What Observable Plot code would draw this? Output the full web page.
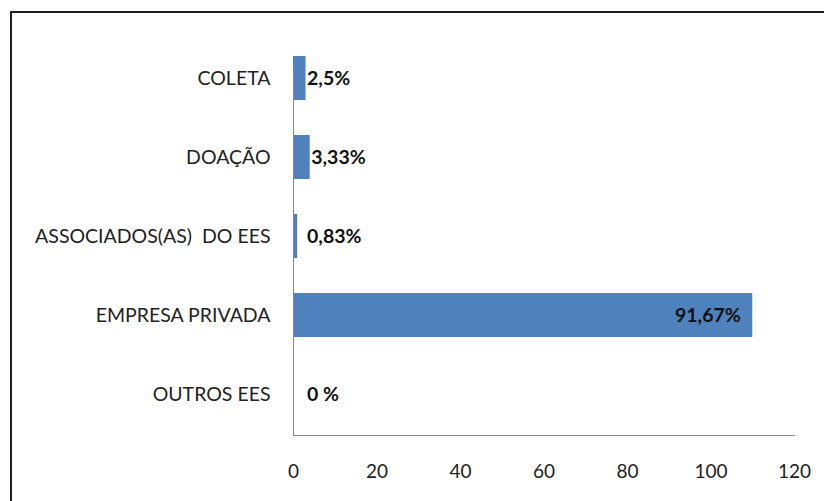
<!DOCTYPE html>
<html>
<head>
<meta charset="utf-8">
<script src="https://cdn.jsdelivr.net/npm/d3@7"></script>
<script src="https://cdn.jsdelivr.net/npm/@observablehq/plot@0.6"></script>
<style>
  html, body { margin: 0; padding: 0; background: #fff; overflow: hidden; }
  #wrap { position: relative; width: 824px; height: 501px; }
  #frame { position: absolute; left: 10px; top: 11px; width: 900px; height: 600px; border: 2px solid #1e1e1e; box-sizing: border-box; }
  #chart { position: absolute; left: 0; top: 0; }
</style>
</head>
<body>
<div id="wrap"><div id="frame"></div><div id="chart"></div></div>
<script>
const categories = ["COLETA", "DOAÇÃO", "ASSOCIADOS(AS)  DO EES", "EMPRESA PRIVADA", "OUTROS EES"];
const values = [3, 4, 1, 110, 0];
const valueLabels = ["2,5%", "3,33%", "0,83%", "91,67%", "0 %"];
const xTicks = [0, 20, 40, 60, 80, 100, 120];

const data = categories.map((c, i) => ({category: c, value: values[i], label: valueLabels[i]}));
const font = "Lato, 'Open Sans', sans-serif";

const chart = Plot.plot({
  width: 824,
  height: 501,
  marginLeft: 293,
  marginRight: 30,
  marginTop: 38,
  marginBottom: 66,
  style: {fontFamily: font, fontSize: "19px", color: "#222", background: "transparent"},
  x: {domain: [0, 120], ticks: xTicks, label: null},
  y: {domain: categories, label: null, paddingInner: 0.44, paddingOuter: 0.22},
  marks: [
    Plot.barX(data, {x: "value", y: "category", fill: "#4F81BD"}),
    Plot.frame({anchor: "left", stroke: "#868686", insetTop: 31}),
    Plot.frame({anchor: "bottom", stroke: "#868686"}),
    Plot.axisY({tickSize: 0, tickPadding: 23, fontSize: 19.5, fill: "#222"}),
    Plot.axisX({ticks: xTicks, tickSize: 0, tickPadding: 29, fontSize: 19, fill: "#222"}),
    Plot.text(data.filter(d => d.value < 50), {
      x: d => Math.max(d.value, 3), y: "category", text: "label",
      textAnchor: "start", dx: 1, fontWeight: "bold", fontSize: 19.5, fill: "#111"
    }),
    Plot.text(data.filter(d => d.value >= 50), {
      x: "value", y: "category", text: "label",
      textAnchor: "end", dx: -12, fontWeight: "bold", fontSize: 19.5, fill: "#111"
    })
  ]
});
document.getElementById("chart").appendChild(chart);
</script>
</body>
</html>
